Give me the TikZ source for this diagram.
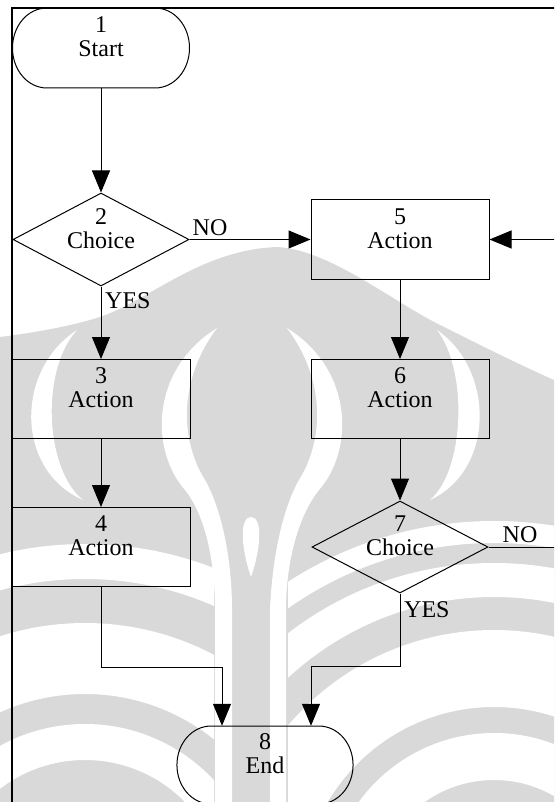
\documentclass[tikz,border=0pt]{standalone}
\usepackage{fontspec}
\setmainfont{Liberation Serif}
\usetikzlibrary{arrows.meta,shapes.geometric,calc}
\definecolor{wmgray}{gray}{0.85}

\tikzset{
  pics/stadium/.style={code={
    \draw[link] (-54,-40) -- (54,-40)
      .. controls (73.3,-40) and (88.5,-22.1) .. (88.5,0)
      .. controls (88.5,22.1) and (73.3,40) .. (54,40)
      -- (-54,40)
      .. controls (-73.3,40) and (-88.5,22.1) .. (-88.5,0)
      .. controls (-88.5,-22.1) and (-73.3,-40) .. (-54,-40) -- cycle;
  }}
}

\begin{document}
\begin{tikzpicture}[x=1pt,y=-1pt,
  every node/.style={font=\fontsize{24}{24}\selectfont},
  link/.style={line width=1pt,draw=black},
  flow/.style={link,-{Triangle[length=22pt,width=18pt]}},
  box/.style={draw,rectangle,line width=1pt,minimum width=178pt,minimum height=79pt,inner sep=0pt},
  choice/.style={draw,diamond,line width=1pt,minimum width=176pt,minimum height=93pt,inner sep=0pt},
  term/.style={rectangle,minimum width=177pt,minimum height=80pt,inner sep=0pt},
  caption/.style={align=center,inner sep=0pt},
  tag/.style={inner sep=0pt},
  ring/.style={draw=white},
]
\useasboundingbox (0,0) rectangle (554,802);
\clip (0,0) rectangle (554,802);

% ---- watermark behind the chart ----
\fill[wmgray] (0,337) .. controls (40,332) and (75,325) .. (100,317)
  .. controls (150,300) and (200,250) .. (277,247)
  .. controls (330,250) and (390,300) .. (440,325)
  .. controls (480,345) and (520,365) .. (554,380)
  -- (554,802) -- (0,802) -- cycle;
% lower left fan
\begin{scope}
  \clip (0,500) rectangle (214,802);
  \draw[ring,line width=36pt] (85,900) circle (158);
  \draw[ring,line width=71pt] (85,900) circle (241.5);
  \draw[ring,line width=35pt] (85,900) circle (338.5);
\end{scope}
% lower right fan
\begin{scope}
  \clip (288,500) rectangle (554,802);
  \draw[ring,line width=47pt] (494,900) circle (143.5);
  \draw[ring,line width=77pt] (494,900) circle (231.5);
  \draw[ring,line width=34pt] (494,900) circle (320);
  \draw[ring,line width=22pt] (494,900) circle (368);
\end{scope}
% outer crescents
\fill[white] (77,330) .. controls (15,370) and (15,470) .. (83,500)
  .. controls (45,470) and (40,370) .. (77,330) -- cycle;
\fill[white] (437,330) .. controls (495,370) and (495,470) .. (430,500)
  .. controls (465,470) and (468,370) .. (437,330) -- cycle;
% inner crescents running down into the stem
\fill[white] (217,328) .. controls (150,370) and (150,450) .. (185,490)
  .. controls (205,515) and (215,560) .. (215,610) -- (215,810) -- (232,810) -- (232,610)
  .. controls (232,560) and (222,510) .. (205,480)
  .. controls (180,440) and (178,380) .. (217,328) -- cycle;
\fill[white] (287,328) .. controls (354,370) and (354,450) .. (319,490)
  .. controls (299,515) and (286,560) .. (286,610) -- (286,810) -- (270,810) -- (270,610)
  .. controls (272,560) and (282,510) .. (299,480)
  .. controls (324,440) and (326,380) .. (287,328) -- cycle;
% centre drop
\fill[white] (251,517) .. controls (262,517) and (262,545) .. (251,577)
  .. controls (240,545) and (240,517) .. (251,517) -- cycle;

% ---- page frame ----
\draw[line width=1.8pt] (12,810) -- (12,8) -- (560,8);

% ---- chart nodes ----
\node[term] (n1) at (101,48) {};
\pic at (n1) {stadium};
\node[caption] (c1) at ([yshift=11pt]n1.center) {1\\Start};

\node[choice] (n2) at (101,239.5) {};
\node[caption] (c2) at ([yshift=11pt]n2.center) {2\\Choice};

\node[box] (n3) at (101,399) {};
\node[caption] (c3) at ([yshift=11pt]n3.center) {3\\Action};

\node[box] (n4) at (101,547) {};
\node[caption] (c4) at ([yshift=11pt]n4.center) {4\\Action};

\node[box] (n5) at (400,239.5) {};
\node[caption] (c5) at ([yshift=11pt]n5.center) {5\\Action};

\node[box] (n6) at (400,399) {};
\node[caption] (c6) at ([yshift=11pt]n6.center) {6\\Action};

\node[choice,minimum height=92pt] (n7) at (400,547) {};
\node[caption] (c7) at ([yshift=11pt]n7.center) {7\\Choice};

\node[term,minimum width=176pt,minimum height=78pt] (n8) at (265,765) {};
\pic[yscale=0.975,xscale=0.995] at (n8) {stadium};
\node[caption] (c8) at ([yshift=11pt]n8.center) {8\\End};

% loop ends that run off the right edge
\coordinate (r5) at ($(n5.east)+(80,0)$);
\coordinate (r7) at ($(n7.east)+(80,0)$);
\coordinate (e4) at ([xshift=-43pt]n8.north);
\coordinate (e7) at ([xshift=46pt]n8.north);

% ---- connectors ----
\draw[flow] (n1.south) -- (n2.north);
\draw[flow] (n2.east) -- (n5.west);
\draw[flow] (n2.south) -- (n3.north);
\draw[flow] (n3.south) -- (n4.north);
\draw[flow] (n5.south) -- (n6.north);
\draw[flow] (n6.south) -- (n7.north);
\draw[flow] (r5) -- (n5.east);
\draw[link] (n7.east) -- (r7);
\draw[flow] (n4.south) -- ++(0,80) -| (e4);
\draw[flow] (n7.south) -- ++(0,73) -| (e7);

% ---- branch labels ----
\node[tag,anchor=base west] (no2) at ([xshift=3pt,yshift=4.5pt]n2.east) {NO};
\node[tag,anchor=base west] (yes2) at ([xshift=4pt,yshift=-22pt]n2.south) {YES};
\node[tag,anchor=base west] (no7) at ([xshift=14pt,yshift=5pt]n7.east) {NO};
\node[tag,anchor=base west] (yes7) at ([xshift=4pt,yshift=-24pt]n7.south) {YES};
\end{tikzpicture}
\end{document}
